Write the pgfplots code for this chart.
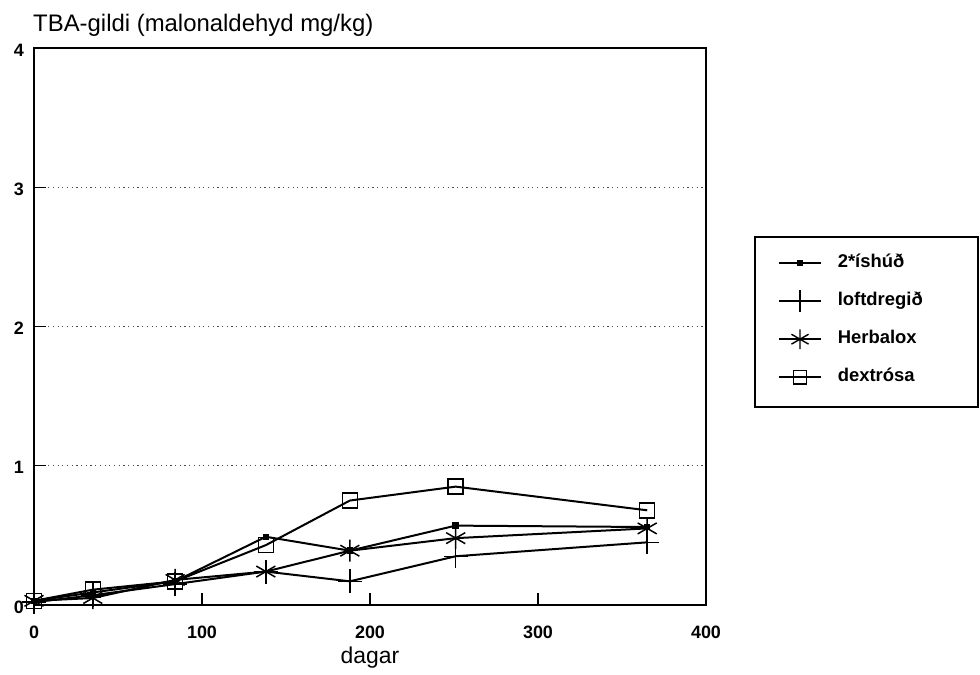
\documentclass[border=0pt]{standalone}
\usepackage{fontspec}
\setmainfont{Liberation Sans}
\usepackage{pgfplots}
\pgfplotsset{compat=1.18}

\begin{document}
\begin{tikzpicture}[x=1bp,y=1bp]
\path[use as bounding box] (0,0) rectangle (980,675);
% legend anchor, given relative to the axis origin
\coordinate (legpos) at (744,353);
\begin{axis}[
  at={(34bp,70bp)}, anchor=south west,
  scale only axis, width=672bp, height=557bp,
  xmin=0, xmax=400, ymin=0, ymax=4,
  axis line style={line width=2bp},
  xtick={0,100,200,300,400}, ytick={0,1,2,3,4},
  xtick pos=lower, ytick pos=left, tick align=inside,
  major tick length=12bp, tick style={line width=1.4bp, black},
  ymajorgrids, grid style={dash pattern=on 1.2bp off 3.5bp, line width=0.9bp, black!70},
  /pgf/number format/assume math mode=true,
  ticklabel style={font=\fontsize{18}{18}\selectfont\bfseries},
  xticklabel style={anchor=north, inner sep=0pt, yshift=-21bp},
  yticklabel style={anchor=east, inner sep=0pt, xshift=-10bp, yshift=-2bp},
  every axis plot/.append style={black, line width=2bp, mark options={solid, line width=1.5bp}},
  legend image code/.code={
    \path[draw=none, fill=none] (0bp,-11bp) rectangle (42bp,11bp);
    \draw[mark repeat=2, mark phase=2] plot coordinates {(0bp,0bp) (21bp,0bp) (42bp,0bp)};
  },
  legend image post style={line width=1.6bp, mark options={solid, line width=1.4bp, scale=0.9}},
  legend style={at={(legpos)}, anchor=north west, draw=none, fill=none,
    inner sep=0pt, row sep=16bp, column sep=16bp,
    font=\fontsize{18.5}{18.5}\selectfont\bfseries,
    nodes={inner sep=0pt, text height=13bp, text depth=4bp}},
  legend cell align=left,
]
% 2*íshúð
\addplot[mark=square*, mark size=2.5bp] coordinates {
  (0,0.03) (35,0.09) (84,0.17) (138,0.49) (188,0.39) (251,0.57) (365,0.56)};
% loftdregið
\addplot[mark=+, mark size=12bp] coordinates {
  (0,0.02) (35,0.07) (84,0.15) (138,0.24) (188,0.17) (251,0.35) (365,0.45)};
% Herbalox
\addplot[mark=asterisk, mark size=11bp] coordinates {
  (0,0.03) (35,0.05) (84,0.18) (138,0.24) (188,0.39) (251,0.48) (365,0.55)};
% dextrósa
\addplot[mark=square, mark size=7.5bp] coordinates {
  (0,0.03) (35,0.11) (84,0.17) (138,0.43) (188,0.75) (251,0.85) (365,0.68)};
\legend{2*íshúð, loftdregið, Herbalox, dextrósa}
\end{axis}
\draw[line width=1.6bp] (755,268) rectangle (978,438);
\node[anchor=base west, font=\fontsize{24}{24}\selectfont, inner sep=0pt] at (33,643) {TBA-gildi (malonaldehyd mg/kg)};
\node[anchor=base, font=\fontsize{23}{23}\selectfont, inner sep=0pt] at (370,11) {dagar};
\end{tikzpicture}
\end{document}
